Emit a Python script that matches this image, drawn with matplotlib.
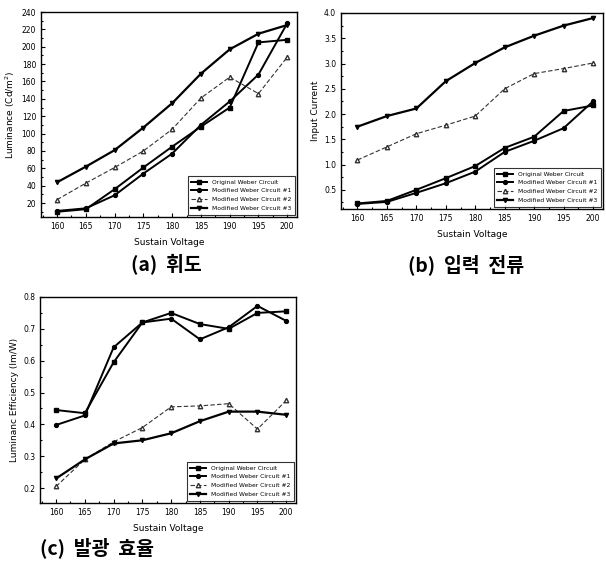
import matplotlib
matplotlib.use("Agg")
import matplotlib.pyplot as plt
from matplotlib.ticker import MultipleLocator

plt.rcParams['font.family'] = ['DejaVu Sans']

VOLT = [160, 165, 170, 175, 180, 185, 190, 195, 200]
NAMES = ["Original Weber Circuit", "Modified Weber Circuit #1",
         "Modified Weber Circuit #2", "Modified Weber Circuit #3"]

# (a) luminance, Cd/m^2
LUM_ORIG = [10, 13, 36, 61, 85, 108, 130, 205, 208]
LUM_M1 = [11, 14, 29, 54, 77, 110, 137, 168, 227]
LUM_M2 = [24, 43, 61, 80, 105, 141, 165, 146, 188]
LUM_M3 = [44, 62, 81, 107, 135, 169, 197, 215, 225]

# (b) input current
CUR_ORIG = [0.23, 0.28, 0.50, 0.73, 0.97, 1.33, 1.55, 2.06, 2.17]
CUR_M1 = [0.22, 0.26, 0.44, 0.63, 0.86, 1.25, 1.47, 1.72, 2.25]
CUR_M2 = [1.09, 1.35, 1.61, 1.78, 1.96, 2.50, 2.80, 2.90, 3.01]
CUR_M3 = [1.75, 1.96, 2.11, 2.65, 3.01, 3.32, 3.55, 3.75, 3.90]

# (c) luminance efficiency, lm/W
EFF_ORIG = [0.445, 0.435, 0.595, 0.720, 0.750, 0.715, 0.700, 0.750, 0.755]
EFF_M1 = [0.398, 0.428, 0.642, 0.720, 0.732, 0.667, 0.705, 0.772, 0.725]
EFF_M2 = [0.205, 0.290, 0.345, 0.390, 0.455, 0.458, 0.465, 0.385, 0.475]
EFF_M3 = [0.230, 0.290, 0.340, 0.350, 0.372, 0.410, 0.440, 0.440, 0.430]

STYLES = [
    dict(color="black", lw=1.4, marker="s", ms=2.8, mfc="black"),
    dict(color="black", lw=1.4, marker="o", ms=2.8, mfc="black"),
    dict(color="#333333", lw=0.8, ls=(0, (4, 2)), marker="^", ms=3.2, mfc="white"),
    dict(color="black", lw=1.6, marker="v", ms=3.0, mfc="black"),
]

W, H = 606, 562
fig = plt.figure(figsize=(W / 100, H / 100), dpi=100)


def px_axes(l, t, r, b):
    return fig.add_axes([l / W, (H - b) / H, (r - l) / W, (b - t) / H])


def panel(ax, series, ylabel, ylim, ymajor, yfmt):
    for s, st, nm in zip(series, STYLES, NAMES):
        ax.plot(VOLT, s, label=nm, **st)
    ax.set_xlim(157.2, 201.7)
    ax.set_ylim(*ylim)
    ax.set_xticks(VOLT)
    ax.xaxis.set_minor_locator(MultipleLocator(2.5))
    ax.yaxis.set_major_locator(MultipleLocator(ymajor))
    ax.yaxis.set_minor_locator(MultipleLocator(ymajor / 2))
    ax.yaxis.set_major_formatter(yfmt)
    ax.tick_params(which="both", direction="in", labelsize=5.5, width=0.8)
    ax.tick_params(which="major", length=3)
    ax.tick_params(which="minor", length=1.5)
    for sp in ax.spines.values():
        sp.set_linewidth(1.0)
    ax.set_xlabel("Sustain Voltage", fontsize=6.5, labelpad=5)
    ax.set_ylabel(ylabel, fontsize=6.5, labelpad=3)
    leg = ax.legend(loc="lower right", fontsize=4.3, frameon=True, fancybox=False,
                    edgecolor="black", borderaxespad=0.4, handlelength=2.6,
                    labelspacing=0.6, borderpad=0.6)
    leg.get_frame().set_linewidth(0.8)


axa = px_axes(41, 12, 297, 217)
panel(axa, [LUM_ORIG, LUM_M1, LUM_M2, LUM_M3], "Luminance (Cd/m$^2$)",
      (4, 240), 20, "{x:.0f}")
axa.set_yticks(range(20, 241, 20))

axb = px_axes(341, 13, 603, 209)
panel(axb, [CUR_ORIG, CUR_M1, CUR_M2, CUR_M3], "Input Current",
      (0.12, 4.0), 0.5, "{x:.1f}")

axc = px_axes(40, 297, 296, 503)
panel(axc, [EFF_ORIG, EFF_M1, EFF_M2, EFF_M3], "Luminanc Efficiency (lm/W)",
      (0.153, 0.8), 0.1, "{x:.1f}")

kfont = ['Noto Sans CJK KR', 'DejaVu Sans']
fig.text(166 / W, 1 - 265 / H, "(a)  휘도", family=kfont, fontsize=14,
         fontweight="bold", ha="center", va="center")
fig.text(466 / W, 1 - 265 / H, "(b)  입력  전류", family=kfont, fontsize=14,
         fontweight="bold", ha="center", va="center")
fig.text(97 / W, 1 - 548 / H, "(c)  발광  효율", family=kfont, fontsize=14,
         fontweight="bold", ha="center", va="center")

fig.savefig("out.png", dpi=100, facecolor="white")
